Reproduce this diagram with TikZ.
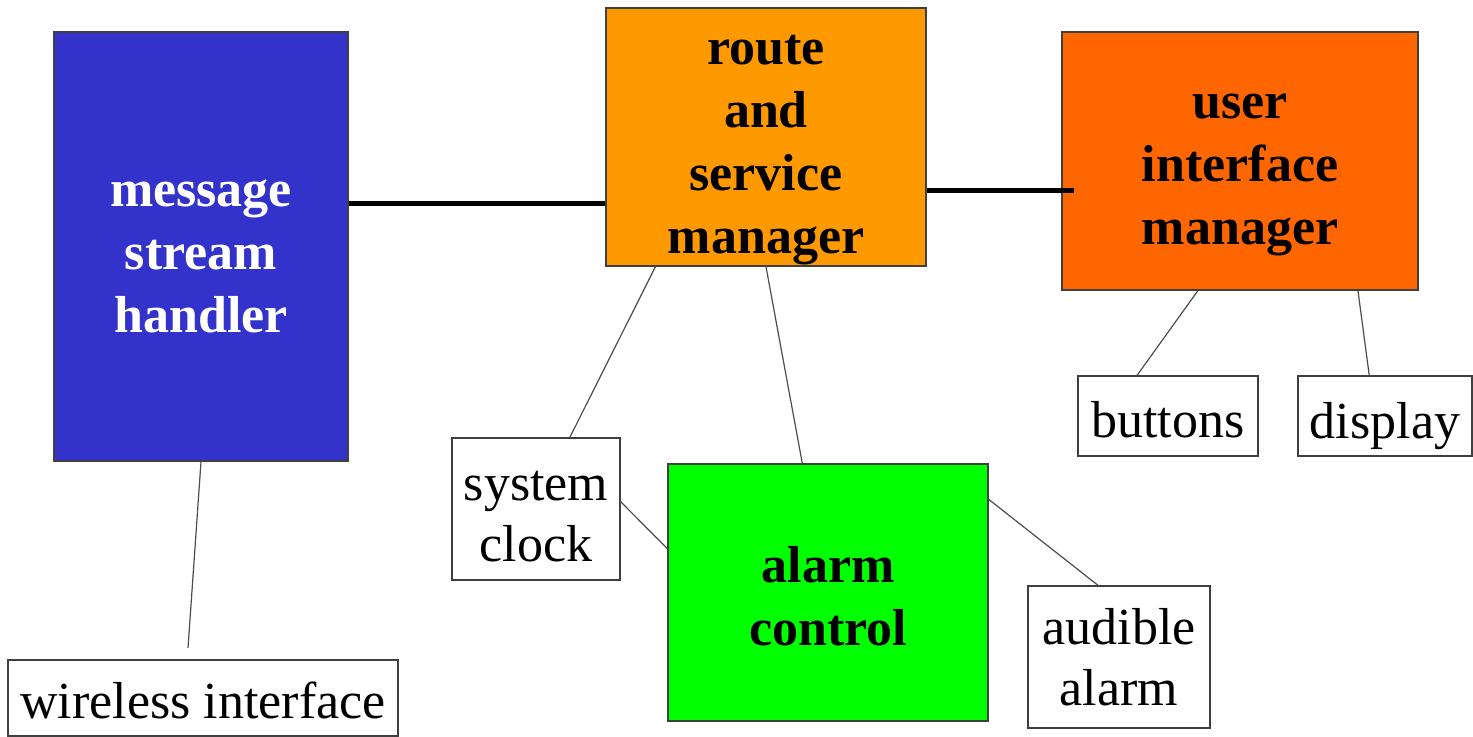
\documentclass[tikz,border=0pt]{standalone}
\usepackage{fontspec}
\setmainfont{Liberation Serif}
\usetikzlibrary{calc}
\definecolor{streamblue}{HTML}{3333CC}
\definecolor{routeorange}{HTML}{FF9900}
\definecolor{uired}{HTML}{FF6600}
\definecolor{alarmgreen}{HTML}{00FF00}

\begin{document}
\begin{tikzpicture}[x=0.5pt, y=-0.5pt,
	block/.style={draw=black!75, line width=0.75pt, inner sep=0pt},
	part/.style={draw=black!75, line width=0.75pt, fill=white, inner sep=0pt},
	blocktext/.style={inner sep=0pt, align=center, font=\bfseries\fontsize{26}{31.5}\selectfont},
	parttext/.style={inner sep=0pt, align=center, font=\fontsize{26}{30.5}\selectfont},
	bus/.style={line width=2.5pt, black},
	link/.style={line width=0.6pt, black!70}]
	\useasboundingbox (0,0) rectangle (1473,737);

	\node[block, fill=streamblue, minimum width=147pt, minimum height=214.5pt, label={[blocktext, text=white, yshift=-5pt]center:message\\stream\\handler}] (msh) at (201,246.5) {};
	\node[block, fill=routeorange, minimum width=160pt, minimum height=129pt, label={[blocktext, yshift=-6.5pt]center:route\\and\\service\\manager}] (rsm) at (766,137) {};
	\node[block, fill=uired, minimum width=178pt, minimum height=129pt, label={[blocktext, yshift=-7pt]center:user\\interface\\manager}] (uim) at (1240,161) {};
	\node[block, fill=alarmgreen, minimum width=160pt, minimum height=128.5pt, label={[blocktext, yshift=-2pt]center:alarm\\control}] (alarm) at (828,592.5) {};

	\node[part, minimum width=195pt, minimum height=38pt, label={[parttext, yshift=-1pt]center:wireless interface}] (wireless) at (203,698) {};
	\node[part, minimum width=84pt, minimum height=71pt, label={[parttext, yshift=-4pt]center:system\\clock}] (clock) at (536,509) {};
	\node[part, minimum width=91pt, minimum height=71pt, label={[parttext]center:audible\\alarm}] (audible) at (1119,657) {};
	\node[part, minimum width=90pt, minimum height=40pt, label={[parttext, yshift=-2pt]center:buttons}] (buttons) at (1168,416) {};
	\node[part, minimum width=87pt, minimum height=40pt, label={[parttext, yshift=-5pt]center:display}] (display) at (1385,416) {};

	\coordinate (wirelessend) at (188,648);

	\draw[bus] ($(msh.north east)!0.4!(msh.south east)$) coordinate (busa) -- (busa -| rsm.west);
	\draw[bus] ($(rsm.north east)!0.705!(rsm.south east)$) coordinate (busb) -- ([xshift=6.5pt]busb -| uim.west);

	\draw[link] (msh.south) -- (wirelessend);
	\draw[link] ($(rsm.south west)!0.156!(rsm.south east)$) -- ($(clock.north west)!0.7!(clock.north east)$);
	\draw[link] (rsm.south) -- ($(alarm.north west)!0.42!(alarm.north east)$);
	\draw[link] ($(clock.north east)!0.45!(clock.south east)$) -- ($(alarm.north west)!0.33!(alarm.south west)$);
	\draw[link] ($(alarm.north east)!0.14!(alarm.south east)$) -- ($(audible.north west)!0.385!(audible.north east)$);
	\draw[link] ($(uim.south west)!0.382!(uim.south east)$) -- ($(buttons.north west)!0.33!(buttons.north east)$);
	\draw[link] ($(uim.south west)!0.83!(uim.south east)$) -- ($(display.north west)!0.41!(display.north east)$);
\end{tikzpicture}
\end{document}
